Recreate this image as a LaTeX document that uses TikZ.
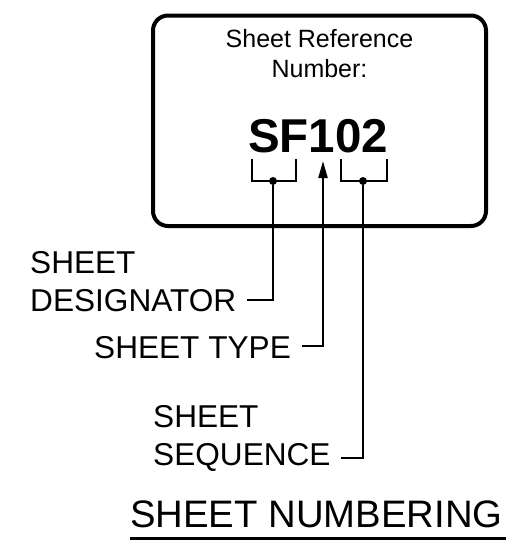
\documentclass[tikz,border=0pt]{standalone}
\usepackage{fontspec}
\setmainfont{Liberation Sans}
\usetikzlibrary{arrows.meta}

\begin{document}
\begin{tikzpicture}[x=1pt,y=-1pt]
	\useasboundingbox (0,0) rectangle (524,550);
	\tikzstyle{lbl}=[inner sep=0pt,align=left,font=\fontsize{31.6}{38}\selectfont]
	\tikzstyle{lead}=[line width=2.2pt]
	\tikzstyle{dot}=[circle,fill,inner sep=0pt,minimum size=8pt]
	% sheet reference box
	\path (319.5,120.75) node[draw,line width=4pt,rounded corners=15pt,minimum width=333pt,minimum height=210.5pt] (v0) {};
	\path (319.5,77) node[anchor=base,align=center,inner sep=0pt,font=\fontsize{25}{30}\selectfont] (v1) {Sheet Reference\\Number:};
	\path (318,152) node[anchor=base,inner sep=0pt,font=\fontsize{47.5}{57}\selectfont\bfseries] (v2) {SF102};
	\draw[lead] (252,159) -- (252,181) -- (296,181) -- (296,159);
	\draw[lead] (341,159) -- (341,181) -- (387,181) -- (387,159);
	\path (273,181) node[dot] (v3) {};
	\path (363,181) node[dot] (v4) {};
	% labels
	\path (30,311) node[lbl,anchor=base west] (v5) {SHEET\\DESIGNATOR};
	\path (94,358) node[lbl,anchor=base west] (v6) {SHEET TYPE};
	\path (153,465) node[lbl,anchor=base west] (v7) {SHEET\\SEQUENCE};
	\coordinate (c0) at (273,300);
	\coordinate (c1) at (323,346);
	\coordinate (c2) at (363,458);
	\coordinate (c3) at (323,161);
	\draw[lead] (v5.base east |- c0) ++(11,0) -- (c0) -- (v3);
	\draw[lead,-{Triangle[length=17pt,width=9pt]}] (v6.base east |- c1) ++(11,0) -- (c1) -- (c3);
	\draw[lead] (v7.base east |- c2) ++(10,0) -- (c2) -- (v4);
	% title
	\path (130,527) node[anchor=base west,inner sep=0pt,font=\fontsize{38.3}{46}\selectfont] (v8) {SHEET NUMBERING};
	\draw[line width=3pt] (v8.base west) ++(0,11) -- ++(376,0);
\end{tikzpicture}
\end{document}
